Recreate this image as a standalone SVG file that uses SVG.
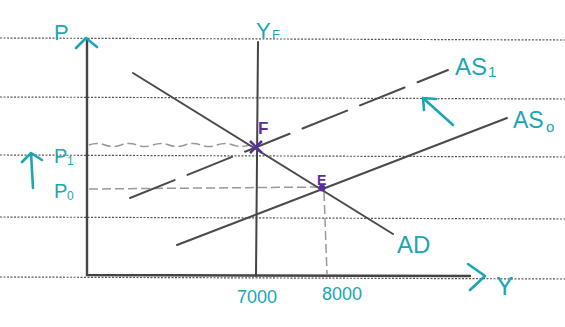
<svg xmlns="http://www.w3.org/2000/svg" width="565" height="327" viewBox="0 0 565 327">
<style>
.rule{stroke:#555;stroke-width:1.2;stroke-dasharray:2 1.5;fill:none}
.ax{stroke:#444;stroke-width:2.4;fill:none;stroke-linecap:round}
.crv{stroke:#4a4a4a;stroke-width:2;fill:none;stroke-linecap:round}
.guide{stroke:#999;stroke-width:1.5;fill:none;stroke-dasharray:9 4}
.tl{fill:#1ba6b5;font-family:"Liberation Sans",Arial,sans-serif}
.tstroke{stroke:#1ba6b5;stroke-width:2.6;fill:none;stroke-linecap:round;stroke-linejoin:round}
.pu{fill:#5b2fa0;font-family:"Liberation Sans",Arial,sans-serif;font-weight:bold}
</style>
<rect width="565" height="327" fill="#fff"/>
<g id="rules">
<line class="rule" x1="0" y1="38" x2="565" y2="40"/>
<line class="rule" x1="0" y1="97" x2="565" y2="99"/>
<line class="rule" x1="0" y1="155" x2="565" y2="157"/>
<line class="rule" x1="0" y1="217" x2="565" y2="219"/>
<line class="rule" x1="0" y1="277" x2="565" y2="279"/>
</g>
<g id="axes">
<polyline class="ax" points="87,40 87,275 470,276"/>
<path class="tstroke" d="M76,48 L86,38 L97,47"/>
<path class="tstroke" d="M468,264 L485,276 L470,290"/>
<text class="tl" x="54" y="40" font-size="22">P</text>
<text class="tl" x="496" y="295" font-size="26">Y</text>
</g>
<g id="YF">
<line class="ax" x1="258" y1="42" x2="256" y2="276" style="stroke-width:2"/>
<text class="tl" x="256" y="38" font-size="22">Y</text>
<text class="tl" x="272" y="39" font-size="13">F</text>
</g>
<g id="connectors">
<path class="guide" d="M89,145 q8,-3 16,0 t16,0 t16,0 t16,0 t16,0 t16,0 t16,0 t16,0 t16,0 t16,0" />
<line class="guide" x1="89" y1="189" x2="322" y2="187"/>
<line class="guide" x1="324" y1="192" x2="327" y2="274"/>
</g>
<g id="AD">
<line class="crv" x1="133" y1="73" x2="393" y2="234"/>
<text class="tl" x="397" y="253" font-size="24">AD</text>
</g>
<g id="AS0">
<line class="crv" x1="177" y1="245" x2="507" y2="118"/>
<text class="tl" x="513" y="128" font-size="23">AS</text>
<text class="tl" x="546" y="132" font-size="15">o</text>
</g>
<g id="AS1">
<line class="crv" x1="130" y1="198" x2="448" y2="70" stroke-dasharray="48 14"/>
<text class="tl" x="455" y="75" font-size="24">AS</text>
<text class="tl" x="488" y="77" font-size="15">1</text>
</g>
<g id="shift">
<path class="tstroke" d="M453,125 L423,98 M423,98 L424,110 M423,98 L436,99"/>
<path class="tstroke" d="M33,188 L31,153 M22,162 L31,153 L42,160"/>
<text class="tl" x="54" y="163" font-size="20">P</text>
<text class="tl" x="67" y="165" font-size="12">1</text>
<text class="tl" x="54" y="198" font-size="20">P</text>
<text class="tl" x="67" y="200" font-size="12">0</text>
</g>
<g id="F">
<path d="M250,141 L262,153 M262,141 L250,153" stroke="#5b2fa0" stroke-width="2.6"/>
<text class="pu" x="258" y="134" font-size="17">F</text>
</g>
<g id="E">
<circle cx="322" cy="188" r="3.5" fill="#5b2fa0"/>
<text class="pu" x="317" y="185" font-size="14">E</text>
</g>
<g id="ticks">
<text class="tl" x="237" y="303" font-size="18">7000</text>
<text class="tl" x="322" y="300" font-size="18">8000</text>
</g>
</svg>
